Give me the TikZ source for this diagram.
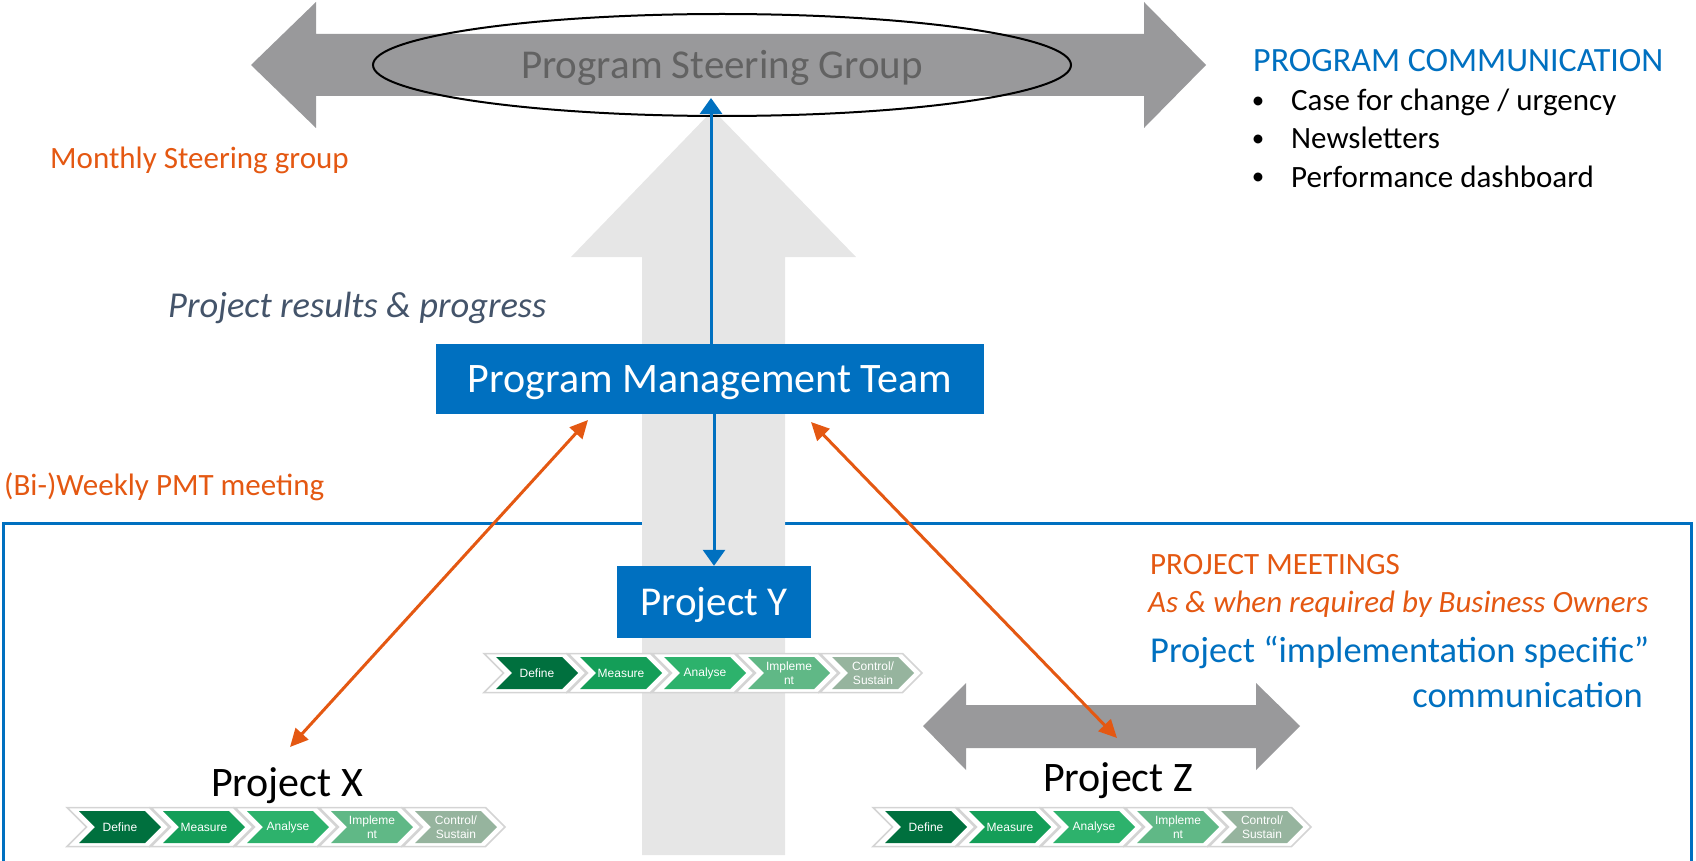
\documentclass[tikz,border=0pt]{standalone}
\usepackage{fontspec}
\setmainfont{Carlito}
\newfontfamily\arialfont{Liberation Sans}
\usepackage{tikz}
\usetikzlibrary{arrows.meta,shapes.geometric,shapes.symbols,positioning,calc}

\definecolor{pmtblue}{RGB}{0,112,192}
\definecolor{pmtorange}{RGB}{228,88,18}
\definecolor{slate}{RGB}{68,84,106}
\definecolor{bargray}{RGB}{153,153,155}
\definecolor{upgray}{RGB}{230,230,230}
\definecolor{psgtext}{RGB}{98,98,98}
\definecolor{chevline}{RGB}{212,212,212}
\definecolor{phdef}{RGB}{0,112,62}
\definecolor{phmea}{RGB}{20,158,88}
\definecolor{phana}{RGB}{45,178,108}
\definecolor{phimp}{RGB}{96,184,134}
\definecolor{phcon}{RGB}{150,180,158}

\tikzset{
	lbl/.style={inner sep=0pt},
	bluebox/.style={fill=pmtblue, text=white, inner sep=0pt, text height=26pt, text depth=0pt},
	phaseout/.style={signal, signal from=west, signal to=east, signal pointer angle=90, fill=white, draw=chevline, line width=1.5pt, minimum width=102pt, minimum height=39pt, inner sep=0pt},
	phase/.style={signal, signal from=west, signal to=east, signal pointer angle=90, minimum width=82pt, minimum height=32pt, inner sep=0pt, text=white, align=center, font=\arialfont\fontsize{12}{14}\selectfont},
	orangelink/.style={draw=pmtorange, line width=3pt, {Triangle[width=17pt,length=18pt]}-{Triangle[width=17pt,length=18pt]}},
	bluelink/.style={draw=pmtblue, line width=3pt, -{Triangle[width=22pt,length=16pt]}}
}

% one row of project phases
\newcommand{\phaserow}[3]{%
	\foreach \lbl/\col [count=\i from 0] in {Define/phdef, Measure/phmea, Analyse/phana, {Impleme\\nt}/phimp, {Control/\\Sustain}/phcon}{
		\node[phaseout] (#1o\i) at ({#2+\i*84}, #3) {};
		\node[phase, fill=\col] (#1p\i) at ({#2+\i*84+2}, #3) {\lbl};
	}%
}

\begin{document}
\begin{tikzpicture}[x=1pt, y=-1pt]
	\useasboundingbox (0,0) rectangle (1696,861);
	
	%Rahmen Projekte
	\draw[pmtblue, line width=3pt] (3,880) -- (3,523) -- (1691,523) -- (1691,880);
	
	%grosser Pfeil nach oben
	\fill[upgray] (642,855) -- (642,257) -- (571,257) -- (713,110) -- (856,257) -- (785,257) -- (785,855) -- cycle;
	
	%Steering Group
	\fill[bargray] (251,65) -- (316,2) -- (316,34) -- (1144,34) -- (1144,2) -- (1206,65) -- (1144,128) -- (1144,96) -- (316,96) -- (316,128) -- cycle;
	\node[ellipse, draw, line width=2pt, minimum width=698pt, minimum height=102pt] (psg) at (722,65) {};
	\node[lbl, anchor=base, text=psgtext, font=\fontsize{41}{48}\selectfont] (psgtxt) at (722,79) {Program Steering Group};
	\coordinate (psgin) at (711,98);
	
	%Programm-Kommunikation
	\node[lbl, anchor=base west, text=pmtblue, font=\fontsize{34}{40}\selectfont] (pcomm) at (1253,72) {PROGRAM COMMUNICATION};
	\foreach \txt [count=\i from 0] in {Case for change / urgency, Newsletters, Performance dashboard}{
		\node[lbl, anchor=base, font=\fontsize{25}{30}\selectfont] (pcb\i) at (1258,{109+\i*38}) {•};
		\node[lbl, anchor=base west, font=\fontsize{31}{36}\selectfont] (pct\i) at (1291,{111+\i*38}) {\txt};
	}
	
	%Meetings links
	\node[lbl, anchor=base west, text=pmtorange, font=\fontsize{31}{36}\selectfont] (monthly) at (50,169) {Monthly Steering group};
	\node[lbl, anchor=base west, text=slate, font=\fontsize{36.5}{42}\selectfont\itshape] (results) at (168,317) {Project results \& progress};
	\node[lbl, anchor=base west, text=pmtorange, font=\fontsize{31}{36}\selectfont] (weekly) at (4,495) {(Bi-)Weekly PMT meeting};
	
	%PMT und Projekte
	\node[bluebox, font=\fontsize{42}{48}\selectfont, minimum width=548pt, minimum height=70pt] (pmt) at (710,379) {Program Management Team};
	\node[bluebox, font=\fontsize{41}{48}\selectfont, minimum width=194pt, minimum height=72pt] (projy) at (714,602) {Project Y};
	\node[lbl, anchor=base, font=\fontsize{42}{48}\selectfont] (projx) at (287,796) {Project X};
	
	\phaserow{phy}{535}{673}
	\phaserow{phx}{118}{827}
	\phaserow{phz}{924}{827}
	
	%Projekt Z Pfeil
	\fill[bargray] (923,726) -- (966,683) -- (966,705) -- (1256,705) -- (1256,683) -- (1300,726) -- (1256,770) -- (1256,748) -- (966,748) -- (966,770) -- cycle;
	\node[lbl, anchor=base, font=\fontsize{42}{48}\selectfont] (projz) at (1118,791) {Project Z};
	
	%Projekt-Meetings rechts
	\node[lbl, anchor=base west, text=pmtorange, font=\fontsize{31}{34}\selectfont] (pmeet) at (1150,574) {PROJECT MEETINGS};
	\node[lbl, anchor=base west, text=pmtorange, font=\fontsize{31}{36}\selectfont\itshape] (asreq) at (1148,612) {As \& when required by Business Owners};
	\node[lbl, anchor=base west, text=pmtblue, font=\fontsize{36.5}{42}\selectfont] (impl) at (1150,662) {Project “implementation specific”};
	\node[lbl, anchor=base east, text=pmtblue, font=\fontsize{36.5}{42}\selectfont] (commu) at (1643,707) {communication};
	
	%Verbindungen
	\coordinate (pmtl) at (588,420);
	\coordinate (pmtr) at (811,422);
	\coordinate (xin) at (290,747);
	\coordinate (zin) at (1117,738);
	\draw[orangelink] (pmtl) -- (xin);
	\draw[orangelink] (pmtr) -- (zin);
	\draw[bluelink] (pmt.north -| psgin) -- (psgin);
	\draw[bluelink] (pmt.south -| projy.north) -- (projy.north);

\end{tikzpicture}
\end{document}
